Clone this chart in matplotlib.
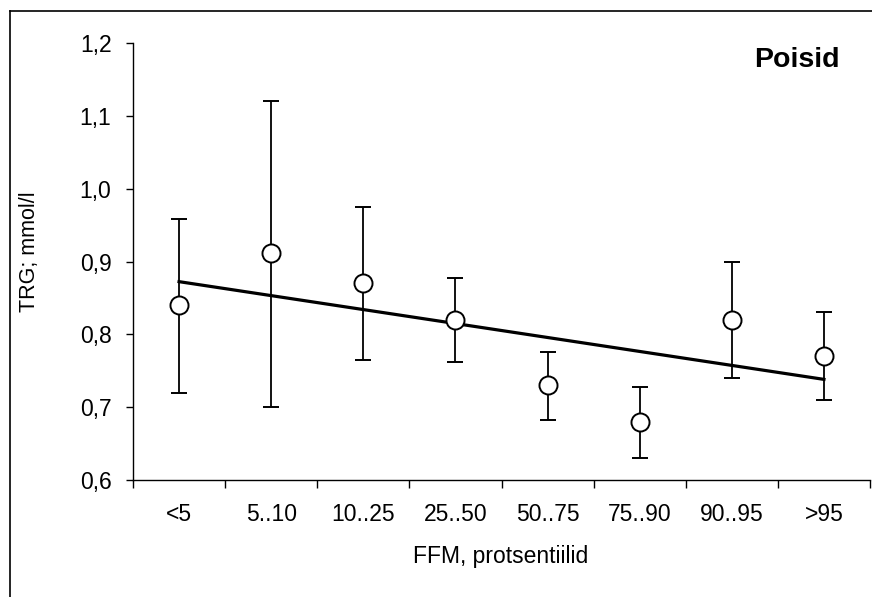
import numpy as np
import matplotlib.pyplot as plt
from matplotlib.lines import Line2D
from matplotlib.ticker import FuncFormatter, FixedLocator

plt.rcParams['font.family'] = ['Liberation Sans', 'DejaVu Sans']

# Data
categories = ['<5', '5..10', '10..25', '25..50', '50..75', '75..90', '90..95', '>95']
means = [0.84, 0.912, 0.87, 0.82, 0.73, 0.68, 0.82, 0.77]
lower = [0.72, 0.70, 0.765, 0.762, 0.683, 0.630, 0.740, 0.710]
upper = [0.958, 1.12, 0.975, 0.878, 0.776, 0.728, 0.900, 0.830]

W, H = 872, 597
x = np.arange(len(categories))
means_a = np.array(means)
yerr = [means_a - np.array(lower), np.array(upper) - means_a]

fig = plt.figure(figsize=(W / 100, H / 100), dpi=100)
ax = fig.add_axes([133 / W, 1 - 480 / H, 737 / W, 437 / H])

# linear trend of the means
k, b = np.polyfit(x + 1, means_a, 1)
ax.plot([x[0], x[-1]], [k * 1 + b, k * len(x) + b], color='black', lw=2.3, zorder=2)

ax.errorbar(x, means, yerr=yerr, fmt='o', color='black', ecolor='black',
            elinewidth=1.3, capsize=5.5, capthick=1.3,
            markerfacecolor='white', markeredgecolor='black',
            markersize=13, markeredgewidth=1.4, zorder=3)

ax.set_xlim(-0.5, len(categories) - 0.5)
ax.set_ylim(0.6, 1.2)
ax.set_yticks(np.arange(0.6, 1.21, 0.1))
ax.yaxis.set_major_formatter(FuncFormatter(lambda v, p: f'{v:.1f}'.replace('.', ',')))

ax.set_xticks(x)
ax.set_xticklabels(categories)
ax.xaxis.set_minor_locator(FixedLocator(np.arange(-0.5, len(categories), 1.0)))
ax.tick_params(axis='x', which='major', length=0, pad=16.5, labelsize=16.5)
ax.tick_params(axis='x', which='minor', length=6, width=1, direction='out')
ax.tick_params(axis='y', length=5, width=1, direction='out', labelsize=16.5, pad=10.5)

for s in ['top', 'right']:
    ax.spines[s].set_visible(False)
for s in ['left', 'bottom']:
    ax.spines[s].set_linewidth(1)

fig.text(30 / W, 1 - 252 / H, 'TRG; mmol/l', rotation=90, ha='center', va='center',
         fontsize=15.5)
fig.text(501 / W, 1 - 563 / H, 'FFM, protsentiilid', ha='center', va='baseline',
         fontsize=16.5)
fig.text(840 / W, 1 - 67 / H, 'Poisid', ha='right', va='baseline',
         fontsize=20.5, fontweight='bold')

# outer frame (left and top edges visible)
fy = 1 - 11 / H
fx = 9.5 / W
fig.add_artist(Line2D([fx, fx], [0, fy], transform=fig.transFigure, color='black', lw=1.2))
fig.add_artist(Line2D([fx, 1], [fy, fy], transform=fig.transFigure, color='black', lw=1.2))

fig.savefig('out.png', dpi=100)
